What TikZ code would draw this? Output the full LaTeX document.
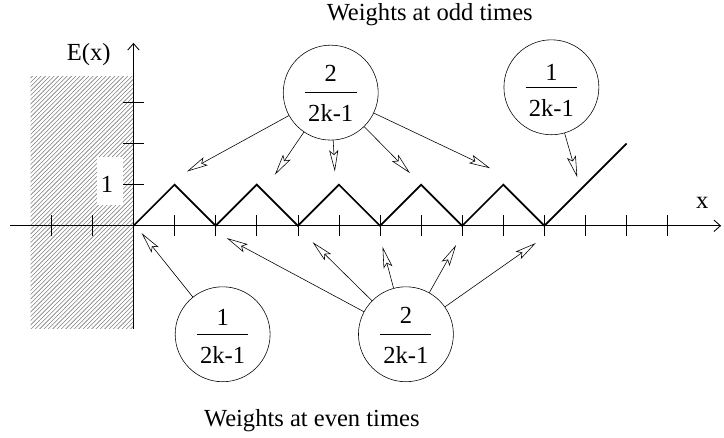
\documentclass[tikz,border=0pt]{standalone}
\usepackage{fontspec}
\setmainfont{Liberation Serif}
\usetikzlibrary{patterns}
\usetikzlibrary{arrows.meta}

\tikzset{
  weight/.style 2 args={draw, circle, minimum size=2.31cm, inner sep=0pt,
    label={[yshift=#2]center:#1}, label={[yshift=-0.5cm]center:2k-1}},
  pointer/.style={-{Stealth[open, length=5.2mm, width=2.2mm, inset=1mm]}},
  axis/.style={semithick, -{Straight Barb[length=1.6mm, width=2.8mm]}},
}

\begin{document}
\begin{tikzpicture}[font=\fontsize{17}{20}\selectfont]
\useasboundingbox (-3.248,-5.163) rectangle (14.37,5.494);
\fill[pattern=north east lines, pattern color=gray] (-2.5,-2.5) rectangle (0,3.625);
\node[fill=white, minimum width=0.63cm, minimum height=1.18cm, inner sep=0pt,
  label={[xshift=-0.07cm, yshift=-0.09cm]center:1}] (one) at (-0.575,1.09) {};
% axes
\coordinate (xstart) at (-3,0);
\coordinate (xend) at (14.3,0);
\coordinate (ystart) at (0,-2.5);
\coordinate (yend) at (0,4.45);
\draw[axis] (xstart) -- (xend);
\draw[axis] (ystart) -- (yend);
\foreach \i in {-2,-1,1,2,...,13} \draw (\i,-0.25) -- (\i,0.25);
\foreach \j in {1,2,3} \draw (-0.25,\j) -- (0.25,\j);
\node (ex) at (-1.09,4.16) {E(x)};
\node (xlabel) at (13.84,0.55) {x};
% E(x)
\draw[line width=1.2pt] (0,0) -- (1,1) -- (2,0) -- (3,1) -- (4,0) -- (5,1) -- (6,0)
  -- (7,1) -- (8,0) -- (9,1) -- (10,0) -- (12,2);
% weights
\node (oddtitle) at (7.21,5.14) {Weights at odd times};
\node (eventitle) at (4.34,-4.75) {Weights at even times};
\node[weight={2}{0.48cm}] (oddtwo) at (4.80,3.24) {\rule{1.26cm}{0.4pt}};
\node[weight={1}{0.36cm}] (oddone) at (10.17,3.37) {\rule{1.26cm}{0.4pt}};
\node[weight={1}{0.41cm}] (evenone) at (2.17,-2.64) {\rule{1.24cm}{0.4pt}};
\node[weight={2}{0.47cm}] (eventwo) at (6.63,-2.64) {\rule{1.24cm}{0.4pt}};
\coordinate (odd1) at (1.30,1.32);
\coordinate (odd2) at (3.44,1.24);
\coordinate (odd3) at (4.90,1.32);
\coordinate (odd4) at (6.73,1.28);
\coordinate (odd5) at (8.68,1.40);
\coordinate (odd6) at (10.80,1.18);
\coordinate (even1) at (0.20,-0.18);
\coordinate (even2) at (2.27,-0.30);
\coordinate (even3) at (4.36,-0.40);
\coordinate (even4) at (6.06,-0.51);
\coordinate (even5) at (7.85,-0.47);
\coordinate (even6) at (9.79,-0.42);
\foreach \k in {1,...,5} \draw[pointer] (oddtwo) -- (odd\k);
\draw[pointer] (oddone) -- (odd6);
\draw[pointer] (evenone) -- (even1);
\foreach \k in {2,...,6} \draw[pointer] (eventwo) -- (even\k);
\end{tikzpicture}
\end{document}
